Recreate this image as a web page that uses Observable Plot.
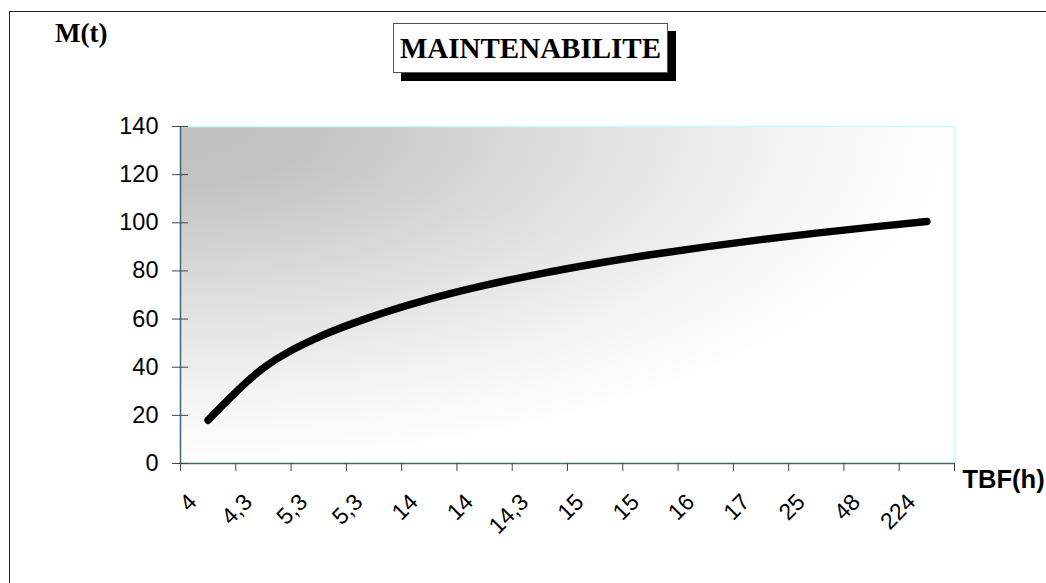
<!DOCTYPE html>
<html>
<head>
<meta charset="utf-8">
<script src="https://cdn.jsdelivr.net/npm/d3@7"></script>
<script src="https://cdn.jsdelivr.net/npm/@observablehq/plot@0.6"></script>
<style>
  html, body { margin: 0; padding: 0; background: #fff; }
  #chart { position: relative; width: 1046px; height: 583px; overflow: hidden; background: #fff; }
  #chart svg { position: absolute; left: 0; top: 0; }
  .outer { position: absolute; left: 9px; top: 11px; width: 1200px; height: 800px; border: 1.5px solid #222; box-sizing: border-box; }
  .ylab { position: absolute; left: 55px; top: 20px; font: bold 27px "Liberation Serif", "Times New Roman", serif; line-height: 27px; color: #000; }
  .title { position: absolute; left: 393px; top: 23px; width: 275px; height: 50px; box-sizing: border-box;
           border: 1px solid #555; background: #fff; box-shadow: 8px 8px 0 #000;
           font: bold 29px "Liberation Serif", "Times New Roman", serif; line-height: 48px; text-align: center; color: #000; }
</style>
</head>
<body>
<div id="chart"></div>
<script>
// TBF categories (x axis) and maintainability M(t) values
const tbfLabels = ["4", "4,3", "5,3", "5,3", "14", "14", "14,3", "15", "15", "16", "17", "25", "48", "224"];
const mValues = [18, 39.7, 52.5, 61.3, 68.3, 74, 78.8, 83, 86.7, 90, 93, 95.7, 98.2, 100.5];
const yTicks = [0, 20, 40, 60, 80, 100, 120, 140];

const points = mValues.map((v, i) => ({i, v}));
const idx = d3.range(tbfLabels.length);

const axisColor = "#3d6a6a";
const edgeColor = "#c6ffff";

const plot = Plot.plot({
  width: 1046,
  height: 583,
  marginLeft: 180,
  marginRight: 92,
  marginTop: 126,
  marginBottom: 120,
  style: {fontFamily: "'Liberation Sans', Arial, sans-serif", background: "white", color: "#000"},
  x: {type: "linear", domain: [0, tbfLabels.length]},
  y: {domain: [0, 140]},
  marks: [
    Plot.frame({fill: "url(#plotBg)", stroke: "none"}),
    Plot.ruleY([140], {stroke: edgeColor, strokeWidth: 1.5}),
    Plot.ruleX([tbfLabels.length], {stroke: edgeColor, strokeWidth: 1.5}),
    Plot.line(points, {x: d => d.i + 0.5, y: "v", curve: "monotone-x", stroke: "#000", strokeWidth: 7.5, strokeLinecap: "round", strokeLinejoin: "round"}),
    Plot.ruleX([0], {stroke: axisColor, strokeWidth: 1.5}),
    Plot.ruleY([0], {stroke: axisColor, strokeWidth: 1.5}),
    Plot.axisY({ticks: yTicks, tickSize: 16, dx: 8, tickPadding: 14, fontSize: 23.5, stroke: "#444", fill: "#000", label: null}),
    Plot.axisX({ticks: d3.range(tbfLabels.length + 1), tickSize: 8, tickFormat: () => "", stroke: "#444", label: null}),
    Plot.text(idx, {x: i => i + 0.5, text: i => tbfLabels[i], frameAnchor: "bottom", rotate: -45, textAnchor: "end", lineAnchor: "bottom", dx: -10, dy: 40, fontSize: 23, fill: "#000"}),
    Plot.text(["TBF(h)"], {frameAnchor: "bottom-right", textAnchor: "start", lineAnchor: "bottom", dx: 8, dy: 24, fontSize: 25.5, fontWeight: "bold", fill: "#000"})
  ]
});

// grey-to-white gradient of the plot area, darkest in the top-left corner
const defs = d3.create("svg:defs");
const grad = defs.append("radialGradient")
  .attr("id", "plotBg")
  .attr("cx", 0).attr("cy", 0).attr("fx", 0).attr("fy", 0).attr("r", 1);
[[0, "#c0c0c0"], [0.18, "#c4c4c4"], [0.5, "#dedede"], [0.8, "#f4f4f4"], [1, "#ffffff"]]
  .forEach(([o, c]) => grad.append("stop").attr("offset", o).attr("stop-color", c));
plot.insertBefore(defs.node(), plot.firstChild);

const chart = document.getElementById("chart");
chart.appendChild(plot);
chart.insertAdjacentHTML("beforeend",
  '<div class="outer"></div><div class="ylab">M(t)</div><div class="title">MAINTENABILITE</div>');
</script>
</body>
</html>
